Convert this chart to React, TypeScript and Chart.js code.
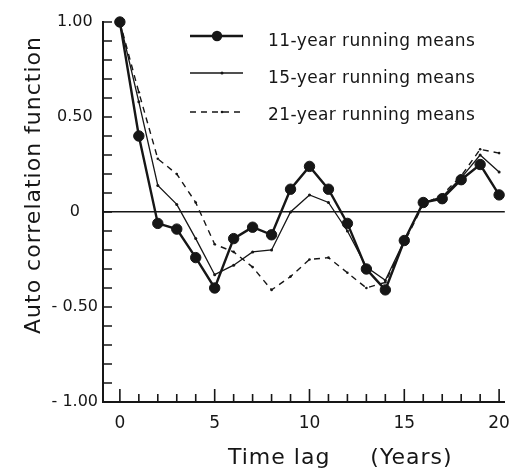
import React, { useEffect, useRef } from "react";
import { Chart, registerables } from "chart.js";

Chart.register(...registerables);

// Time lag (years)
const lags = [0, 1, 2, 3, 4, 5, 6, 7, 8, 9, 10, 11, 12, 13, 14, 15, 16, 17, 18, 19, 20];
// Auto correlation of running means
const means11 = [1.0, 0.4, -0.06, -0.09, -0.24, -0.4, -0.14, -0.08, -0.12, 0.12, 0.24, 0.12, -0.06, -0.3, -0.41, -0.15, 0.05, 0.07, 0.17, 0.25, 0.09];
const means15 = [1.0, 0.58, 0.14, 0.04, -0.14, -0.33, -0.28, -0.21, -0.2, 0.0, 0.09, 0.05, -0.1, -0.29, -0.36, -0.15, 0.05, 0.08, 0.18, 0.3, 0.21];
const means21 = [1.0, 0.63, 0.28, 0.2, 0.05, -0.17, -0.21, -0.29, -0.41, -0.34, -0.25, -0.24, -0.32, -0.4, -0.37, -0.16, 0.04, 0.09, 0.19, 0.33, 0.31];

const seriesNames = ["11-year running means", "15-year running means", "21-year running means"];

const yTickValues = [-1, -0.9, -0.8, -0.7, -0.6, -0.5, -0.4, -0.3, -0.2, -0.1, 0, 0.1, 0.2, 0.3, 0.4, 0.5, 0.6, 0.7, 0.8, 0.9, 1];
const yLabelValues = [1, 0.5, 0, -0.5, -1];
const yLabelTexts = ["1.00", "0.50", "0", "- 0.50", "- 1.00"];
const xLabelValues = [0, 5, 10, 15, 20];

const xTitle = "Time lag     (Years)";
const yTitle = "Auto correlation function";

const INK = "#161616";
const FONT = "'DejaVu Sans', sans-serif";

const decoPlugin = {
  id: "deco",
  afterDraw(chart: any) {
    const ctx = chart.ctx as CanvasRenderingContext2D;
    const xs = chart.scales.x;
    const ys = chart.scales.y;
    const area = chart.chartArea;
    ctx.save();
    ctx.strokeStyle = INK;
    ctx.fillStyle = INK;
    // inward ticks on y axis
    ctx.lineWidth = 1.6;
    ctx.beginPath();
    for (const v of yTickValues) {
      const py = ys.getPixelForValue(v);
      ctx.moveTo(area.left, py);
      ctx.lineTo(area.left + 9, py);
    }
    // inward ticks on x axis
    for (const v of lags) {
      const px = xs.getPixelForValue(v);
      const len = v % 5 === 0 ? 13 : 8;
      ctx.moveTo(px, area.bottom);
      ctx.lineTo(px, area.bottom - len);
    }
    ctx.stroke();

    // axis titles
    (ctx as any).letterSpacing = "1px";
    ctx.font = `22px ${FONT}`;
    ctx.textAlign = "left";
    ctx.textBaseline = "alphabetic";
    ctx.fillText(xTitle, 228, 464);
    ctx.save();
    ctx.translate(40, 185);
    ctx.rotate(-Math.PI / 2);
    ctx.textAlign = "center";
    ctx.fillText(yTitle, 0, 0);
    ctx.restore();

    // legend
    const lineYs = [36, 73, 112];
    const baseYs = [46, 83, 120];
    (ctx as any).letterSpacing = "0.4px";
    ctx.font = `17px ${FONT}`;
    chart.data.datasets.forEach((ds: any, i: number) => {
      const y = lineYs[i];
      ctx.save();
      ctx.strokeStyle = INK;
      ctx.lineWidth = ds.borderWidth;
      ctx.setLineDash(ds.borderDash || []);
      ctx.beginPath();
      ctx.moveTo(190, y);
      ctx.lineTo(243, y);
      ctx.stroke();
      ctx.setLineDash([]);
      ctx.beginPath();
      ctx.arc(i === 0 ? 217 : 222, y, ds.pointRadius, 0, Math.PI * 2);
      ctx.fill();
      ctx.restore();
      ctx.textAlign = "left";
      ctx.textBaseline = "alphabetic";
      ctx.fillText(ds.label, 268, baseYs[i]);
    });
    ctx.restore();
  },
};

export default function App() {
  const ref = useRef<HTMLCanvasElement | null>(null);
  useEffect(() => {
    if (!ref.current) return;
    const toXY = (arr: number[]) => lags.map((l, i) => ({ x: l, y: arr[i] }));
    const chart = new Chart(ref.current, {
      type: "line",
      data: {
        datasets: [
          {
            label: seriesNames[0],
            data: toXY(means11),
            borderColor: INK,
            backgroundColor: INK,
            borderWidth: 2.4,
            pointRadius: 5.2,
            pointBackgroundColor: INK,
            pointBorderColor: INK,
            pointBorderWidth: 1,
            tension: 0,
            clip: false,
          },
          {
            label: seriesNames[1],
            data: toXY(means15),
            borderColor: INK,
            backgroundColor: INK,
            borderWidth: 1.3,
            pointRadius: 1.5,
            pointBackgroundColor: INK,
            pointBorderWidth: 0,
            tension: 0,
            clip: false,
          },
          {
            label: seriesNames[2],
            data: toXY(means21),
            borderColor: INK,
            backgroundColor: INK,
            borderWidth: 1.4,
            borderDash: [6, 5],
            pointRadius: 1.3,
            pointBackgroundColor: INK,
            pointBorderWidth: 0,
            tension: 0,
            clip: false,
          },
        ],
      } as any,
      options: {
        animation: false,
        responsive: false,
        maintainAspectRatio: false,
        layout: { padding: { top: 22, right: 0, left: 0, bottom: 0 } },
        plugins: { legend: { display: false }, tooltip: { enabled: false } },
        scales: {
          x: {
            type: "linear",
            min: -0.89,
            max: 20.3,
            afterBuildTicks: (s: any) => {
              s.ticks = lags.map((v) => ({ value: v }));
            },
            afterFit: (s: any) => {
              s.height = 71;
              s.paddingLeft = 0;
              s.paddingRight = 0;
            },
            ticks: {
              autoSkip: false,
              maxRotation: 0,
              padding: 11,
              color: INK,
              font: { family: FONT, size: 17 },
              callback: (v: any) => (xLabelValues.includes(Number(v)) ? String(v) : ""),
            },
            grid: { display: true, drawOnChartArea: false, drawTicks: false, color: "rgba(0,0,0,0)" },
            border: { display: true, color: INK, width: 2 },
          },
          y: {
            type: "linear",
            min: -1,
            max: 1,
            afterBuildTicks: (s: any) => {
              s.ticks = yTickValues.map((v) => ({ value: v }));
            },
            afterFit: (s: any) => {
              s.width = 103;
              s.paddingTop = 0;
              s.paddingBottom = 0;
            },
            ticks: {
              autoSkip: false,
              padding: 5,
              crossAlign: "center",
              color: INK,
              font: { family: FONT, size: 16 },
              callback: (v: any) => {
                const idx = yLabelValues.indexOf(Number(v));
                return idx >= 0 ? yLabelTexts[idx] : "";
              },
            },
            grid: {
              display: true,
              drawOnChartArea: true,
              drawTicks: false,
              lineWidth: 1.5,
              color: (c: any) => (c.tick && c.tick.value === 0 ? INK : "rgba(0,0,0,0)"),
            },
            border: { display: true, color: INK, width: 2 },
          },
        },
      } as any,
      plugins: [decoPlugin],
    });
    return () => chart.destroy();
  }, []);
  return (
    <div style={{ position: "fixed", left: 0, top: 0, width: 511, height: 473, background: "#fff" }}>
      <canvas ref={ref} width={511} height={473} style={{ display: "block" }} />
    </div>
  );
}
